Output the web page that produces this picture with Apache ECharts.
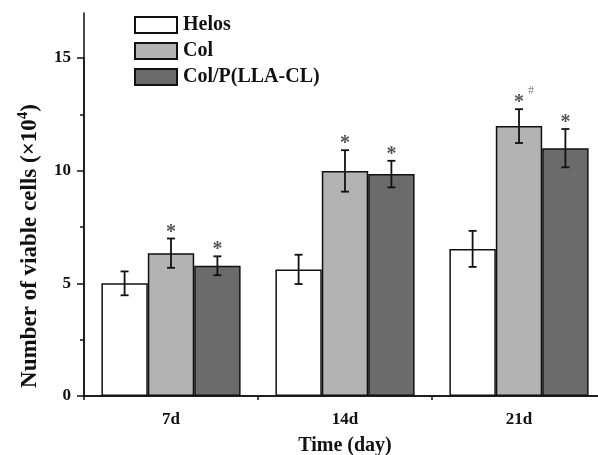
<!DOCTYPE html>
<html>
<head>
<meta charset="utf-8">
<script src="https://cdn.jsdelivr.net/npm/echarts@6/dist/echarts.min.js"></script>
<style>
  html, body { margin: 0; padding: 0; background: #fff; }
  #chart { width: 598px; height: 455px; }
</style>
</head>
<body>
<div id="chart"></div>
<script>
const days = ['7d', '14d', '21d']
const seriesNames = ['Helos', 'Col', 'Col/P(LLA-CL)']
const helos = [5.0, 5.62, 6.53]
const helosErr = [0.53, 0.65, 0.8]
const col = [6.34, 9.99, 11.98]
const colErr = [0.65, 0.92, 0.75]
const colP = [5.78, 9.85, 11.0]
const colPErr = [0.42, 0.59, 0.85]
const helosSig = ['', '', '']
const colSig = ['*', '*', '*']
const colHash = ['', '', '#']
const colPSig = ['*', '*', '*']
const yTicks = [0, 5, 10, 15]

const font = 'Liberation Serif'
const colors = ['#ffffff', '#b3b3b3', '#6b6b6b']
const ink = '#111'

const yMax = 17
const yMinorMax = 15
const plotH = 383

const chart = echarts.init(document.getElementById('chart'))

// error bar + significance marks, offset to sit on bar number idx
const errorBars = (idx, values, errs, sig, hash) => ({
  type: 'custom',
  xAxisIndex: 0,
  yAxisIndex: 0,
  z: 5,
  data: values.map((v, i) => [i, v, errs[i]]),
  renderItem: (params, api) => {
    const i = params.dataIndex
    const hi = api.coord([api.value(0), api.value(1) + api.value(2)])
    const lo = api.coord([api.value(0), api.value(1) - api.value(2)])
    const barW = api.size([1, 0])[0] * 0.8 / 3
    const x = hi[0] + (idx - 1) * barW
    const cap = 4
    const style = { stroke: ink, lineWidth: 1.8 }
    const children = [
      { type: 'line', shape: { x1: x, y1: hi[1], x2: x, y2: lo[1] }, style },
      { type: 'line', shape: { x1: x - cap, y1: hi[1], x2: x + cap, y2: hi[1] }, style },
      { type: 'line', shape: { x1: x - cap, y1: lo[1], x2: x + cap, y2: lo[1] }, style }
    ]
    if (sig[i]) {
      children.push({
        type: 'text', x: x, y: hi[1] + 4,
        style: { text: sig[i], fill: '#555', font: 'bold 20px "' + font + '"', align: 'center', verticalAlign: 'bottom' }
      })
    }
    if (hash && hash[i]) {
      children.push({
        type: 'text', x: x + 12, y: hi[1] - 12,
        style: { text: hash[i], fill: '#888', font: '12px "' + font + '"', align: 'center', verticalAlign: 'bottom' }
      })
    }
    return { type: 'group', children }
  }
})

const barSeries = (name, data, color) => ({
  name,
  type: 'bar',
  data,
  barGap: '0%',
  barCategoryGap: '20%',
  itemStyle: { color, borderColor: ink, borderWidth: 1.5 }
})

const lineStyle = { color: ink, width: 1.5 }

chart.setOption({
  animation: false,
  backgroundColor: '#fff',
  textStyle: { fontFamily: font },
  grid: [
    { left: 84, width: 522, bottom: 59, height: plotH, outerBoundsMode: 'none' },
    // second grid only carries the short minor ticks of the y axis (0..15)
    { left: 84, width: 522, bottom: 59, height: plotH * yMinorMax / yMax, outerBoundsMode: 'none' }
  ],
  legend: {
    orient: 'vertical',
    left: 134,
    top: 15,
    padding: 0,
    itemWidth: 42,
    itemHeight: 16,
    itemGap: 6,
    icon: 'rect',
    textStyle: { fontFamily: font, fontWeight: 'bold', fontSize: 20, color: ink, padding: [0, 0, 0, 1] },
    data: seriesNames
  },
  xAxis: [{
    type: 'category',
    data: days,
    name: 'Time (day)',
    nameLocation: 'middle',
    nameGap: 40,
    nameTextStyle: { fontFamily: font, fontWeight: 'bold', fontSize: 20, color: ink },
    axisLine: { lineStyle },
    axisTick: { alignWithLabel: true, length: 7, lineStyle },
    axisLabel: { margin: 15, fontFamily: font, fontWeight: 'bold', fontSize: 17, color: ink }
  }, {
    type: 'category',
    data: days,
    position: 'bottom',
    axisLine: { show: true, lineStyle },
    axisTick: { show: true, length: 4, lineStyle },
    axisLabel: { show: false }
  }, {
    type: 'category',
    gridIndex: 1,
    data: days,
    show: false
  }],
  yAxis: [{
    type: 'value',
    min: 0,
    max: yMax,
    interval: 5,
    splitLine: { show: false },
    axisLine: { show: true, lineStyle },
    axisTick: { show: true, length: 7, lineStyle, customValues: yTicks },
    axisLabel: { margin: 13, fontFamily: font, fontWeight: 'bold', fontSize: 17, color: ink, customValues: yTicks }
  }, {
    type: 'value',
    gridIndex: 1,
    position: 'left',
    min: 0,
    max: yMinorMax,
    interval: 2.5,
    splitLine: { show: false },
    axisLine: { show: true, lineStyle },
    axisTick: { show: true, length: 4, lineStyle },
    axisLabel: { show: false }
  }],
  graphic: [{
    type: 'text',
    x: 30,
    y: 246,
    rotation: Math.PI / 2,
    style: {
      text: '{a|Number of viable cells (×10}{s|4}{a|)}',
      align: 'center',
      verticalAlign: 'middle',
      rich: {
        a: { fontFamily: font, fontWeight: 'bold', fontSize: 23, fill: ink },
        s: { fontFamily: font, fontWeight: 'bold', fontSize: 15, fill: ink, padding: [0, 0, 13, 0] }
      }
    }
  }],
  series: [
    barSeries(seriesNames[0], helos, colors[0]),
    barSeries(seriesNames[1], col, colors[1]),
    barSeries(seriesNames[2], colP, colors[2]),
    errorBars(0, helos, helosErr, helosSig),
    errorBars(1, col, colErr, colSig, colHash),
    errorBars(2, colP, colPErr, colPSig)
  ]
})
</script>
</body>
</html>
